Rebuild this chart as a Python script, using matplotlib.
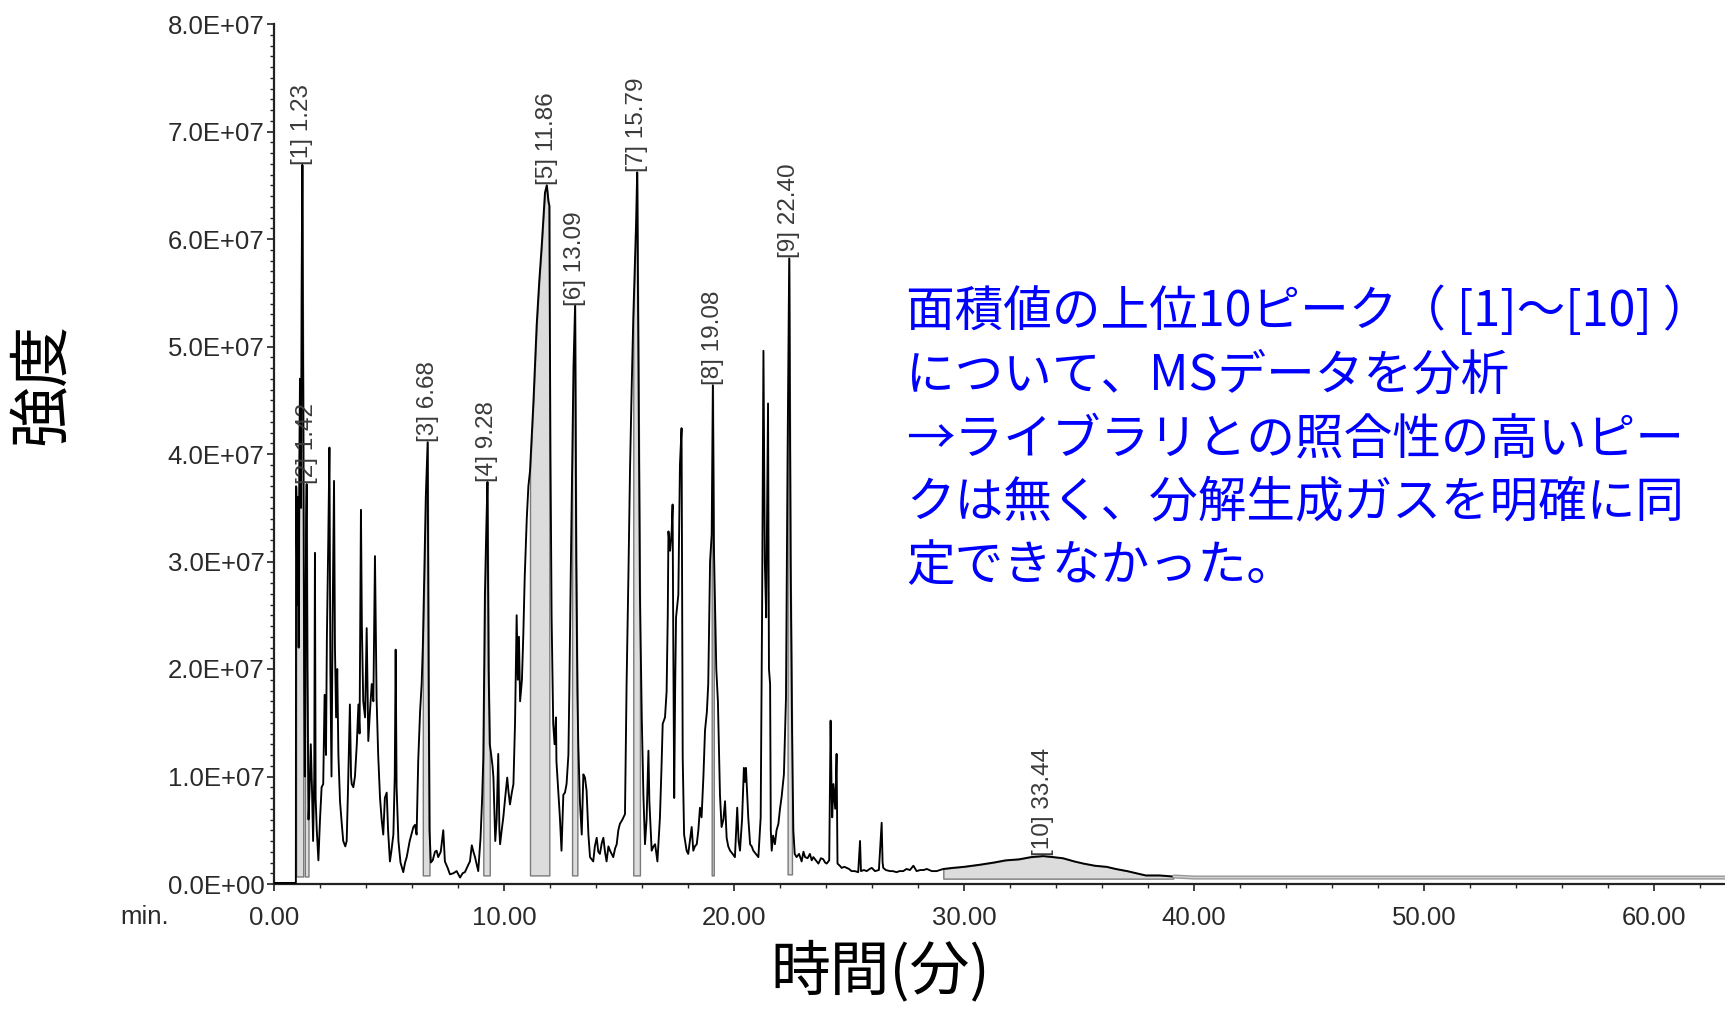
import numpy as np
import matplotlib
matplotlib.use("Agg")
import matplotlib.pyplot as plt
from matplotlib.ticker import MultipleLocator, FixedLocator, FixedFormatter

# ---------------- data ----------------
time_min = [
    0.00, 0.95, 0.96, 0.99, 1.01, 1.04, 1.07, 1.10, 1.13, 1.17,
    1.20, 1.23, 1.27, 1.31, 1.34, 1.37, 1.40, 1.42, 1.45, 1.50,
    1.55, 1.60, 1.65, 1.70, 1.75, 1.78, 1.81, 1.86, 1.93, 2.00,
    2.07, 2.14, 2.20, 2.26, 2.30, 2.36, 2.41, 2.45, 2.50, 2.55,
    2.61, 2.65, 2.70, 2.75, 2.80, 2.87, 2.95, 3.01, 3.10, 3.16,
    3.22, 3.30, 3.35, 3.38, 3.45, 3.52, 3.60, 3.67, 3.72, 3.78,
    3.82, 3.88, 3.96, 4.03, 4.07, 4.10, 4.17, 4.25, 4.32, 4.39,
    4.42, 4.46, 4.53, 4.61, 4.68, 4.75, 4.82, 4.90, 4.96, 5.04,
    5.10, 5.19, 5.25, 5.29, 5.33, 5.41, 5.50, 5.62, 5.70, 5.77,
    5.90, 6.06, 6.13, 6.20, 6.27, 6.35, 6.42, 6.47, 6.52, 6.60,
    6.68, 6.72, 6.76, 6.82, 6.90, 7.00, 7.07, 7.14, 7.25, 7.36,
    7.43, 7.55, 7.65, 7.80, 7.94, 8.09, 8.20, 8.30, 8.45, 8.52,
    8.60, 8.67, 8.74, 8.88, 8.98, 9.05, 9.10, 9.17, 9.23, 9.28,
    9.33, 9.38, 9.42, 9.50, 9.54, 9.62, 9.68, 9.75, 9.80, 9.83,
    9.90, 9.97, 10.05, 10.14, 10.20, 10.26, 10.34, 10.41, 10.48, 10.55,
    10.60, 10.65, 10.70, 10.78, 10.84, 10.90, 10.99, 11.06, 11.13, 11.28,
    11.42, 11.53, 11.64, 11.78, 11.86, 11.93, 11.97, 12.02, 12.07, 12.14,
    12.20, 12.26, 12.28, 12.35, 12.43, 12.50, 12.58, 12.65, 12.72, 12.80,
    12.84, 12.90, 12.96, 13.02, 13.09, 13.14, 13.19, 13.23, 13.30, 13.38,
    13.45, 13.52, 13.59, 13.67, 13.74, 13.88, 13.95, 14.03, 14.10, 14.17,
    14.25, 14.32, 14.39, 14.46, 14.54, 14.61, 14.68, 14.75, 14.83, 14.90,
    14.97, 15.04, 15.15, 15.26, 15.33, 15.41, 15.48, 15.55, 15.62, 15.74,
    15.79, 15.84, 15.91, 15.99, 16.06, 16.13, 16.20, 16.28, 16.32, 16.42,
    16.50, 16.57, 16.67, 16.72, 16.78, 16.85, 16.90, 17.00, 17.07, 17.12,
    17.15, 17.22, 17.29, 17.33, 17.36, 17.40, 17.44, 17.48, 17.58, 17.65,
    17.72, 17.77, 17.83, 17.94, 18.01, 18.08, 18.16, 18.23, 18.30, 18.38,
    18.45, 18.52, 18.59, 18.67, 18.74, 18.82, 18.88, 18.96, 19.03, 19.08,
    19.12, 19.17, 19.23, 19.30, 19.39, 19.46, 19.54, 19.61, 19.68, 19.75,
    19.83, 19.94, 20.04, 20.14, 20.20, 20.26, 20.35, 20.43, 20.48, 20.52,
    20.58, 20.62, 20.70, 20.77, 20.84, 20.95, 21.06, 21.16, 21.22, 21.28,
    21.34, 21.40, 21.48, 21.52, 21.57, 21.60, 21.64, 21.70, 21.78, 21.85,
    21.93, 22.00, 22.07, 22.17, 22.26, 22.33, 22.40, 22.46, 22.52, 22.58,
    22.64, 22.72, 22.83, 22.94, 23.02, 23.09, 23.20, 23.30, 23.38, 23.45,
    23.56, 23.67, 23.78, 23.88, 23.96, 24.03, 24.14, 24.20, 24.24, 24.27,
    24.32, 24.40, 24.46, 24.50, 24.60, 24.68, 24.80, 24.90, 25.00, 25.11,
    25.25, 25.40, 25.48, 25.52, 25.65, 25.77, 25.90, 25.99, 26.13, 26.30,
    26.42, 26.46, 26.49, 26.60, 26.78, 26.90, 27.07, 27.20, 27.36, 27.50,
    27.65, 27.80, 27.94, 28.10, 28.25, 28.38, 28.60, 28.81, 29.10, 29.50,
    30.00, 30.70, 31.30, 31.80, 32.40, 32.90, 33.44, 33.90, 34.30, 34.80,
    35.20, 35.70, 36.20, 36.60, 37.10, 37.50, 37.90, 38.50, 39.10, 40.00,
    63.30,
]
intensity_e7 = [
    0.01, 0.01, 3.70, 3.30, 2.60, 3.60, 2.20, 3.90, 4.70, 3.50,
    5.50, 6.69, 4.50, 2.00, 1.00, 2.50, 3.40, 3.72, 2.00, 0.60,
    0.90, 1.30, 0.90, 0.40, 1.00, 3.08, 0.80, 0.50, 0.22, 0.60,
    0.90, 0.93, 1.76, 1.20, 2.30, 3.20, 4.06, 2.00, 1.00, 2.50,
    3.75, 2.20, 1.55, 2.00, 1.20, 0.77, 0.55, 0.40, 0.35, 0.40,
    0.90, 1.67, 1.00, 0.93, 0.90, 1.00, 1.30, 1.67, 1.40, 3.48,
    2.40, 1.70, 1.55, 2.38, 1.80, 1.33, 1.60, 1.86, 1.70, 3.05,
    2.50, 1.73, 1.20, 0.80, 0.60, 0.46, 0.80, 0.85, 0.50, 0.21,
    0.30, 0.46, 1.00, 2.18, 0.90, 0.40, 0.20, 0.11, 0.20, 0.25,
    0.40, 0.53, 0.55, 0.46, 1.14, 1.60, 1.86, 2.20, 2.72, 3.60,
    4.11, 2.00, 0.50, 0.20, 0.22, 0.30, 0.31, 0.25, 0.30, 0.50,
    0.21, 0.15, 0.09, 0.10, 0.12, 0.06, 0.10, 0.11, 0.18, 0.21,
    0.36, 0.30, 0.25, 0.12, 0.43, 0.80, 1.17, 2.69, 3.30, 3.74,
    2.00, 1.30, 1.24, 1.10, 0.99, 0.40, 0.60, 1.21, 0.50, 0.37,
    0.50, 0.62, 0.80, 0.99, 0.85, 0.74, 0.85, 0.93, 1.50, 2.50,
    1.90, 2.30, 1.70, 1.90, 2.32, 2.85, 3.40, 3.70, 3.84, 4.49,
    5.20, 5.60, 5.94, 6.43, 6.50, 6.35, 6.31, 4.00, 2.48, 1.49,
    1.30, 1.55, 1.14, 0.90, 0.62, 0.31, 0.83, 0.85, 0.93, 1.20,
    1.79, 2.85, 3.80, 4.80, 5.38, 3.00, 1.80, 1.30, 0.77, 0.46,
    1.02, 0.99, 0.87, 0.46, 0.25, 0.21, 0.35, 0.43, 0.30, 0.28,
    0.38, 0.43, 0.30, 0.21, 0.35, 0.31, 0.28, 0.25, 0.33, 0.37,
    0.50, 0.56, 0.60, 0.65, 1.86, 2.88, 3.87, 4.60, 5.26, 6.13,
    6.62, 5.00, 2.69, 1.55, 0.83, 0.37, 0.60, 1.24, 0.77, 0.31,
    0.35, 0.37, 0.21, 0.40, 0.62, 1.10, 1.49, 1.55, 1.79, 2.50,
    3.28, 3.10, 3.28, 3.53, 2.26, 0.80, 1.80, 2.48, 2.69, 3.90,
    4.24, 1.17, 0.46, 0.31, 0.28, 0.40, 0.53, 0.31, 0.35, 0.37,
    0.50, 0.71, 0.62, 1.00, 1.43, 1.60, 1.86, 3.00, 3.25, 4.64,
    3.20, 2.63, 2.00, 1.70, 0.83, 0.53, 0.60, 0.77, 0.43, 0.35,
    0.31, 0.28, 0.25, 0.71, 0.40, 0.31, 0.60, 1.08, 0.95, 1.08,
    0.80, 0.62, 0.37, 0.35, 0.31, 0.28, 0.25, 0.62, 2.50, 4.96,
    3.00, 2.48, 4.47, 2.00, 1.86, 0.50, 0.31, 0.45, 0.37, 0.50,
    0.56, 0.70, 0.81, 1.02, 1.73, 4.00, 5.82, 3.00, 1.50, 0.50,
    0.28, 0.25, 0.28, 0.21, 0.30, 0.25, 0.24, 0.28, 0.22, 0.25,
    0.22, 0.19, 0.24, 0.23, 0.20, 0.19, 0.22, 1.52, 0.90, 0.62,
    0.93, 0.70, 1.21, 0.19, 0.17, 0.15, 0.16, 0.15, 0.14, 0.12,
    0.12, 0.11, 0.40, 0.12, 0.13, 0.12, 0.14, 0.15, 0.12, 0.13,
    0.57, 0.20, 0.15, 0.13, 0.12, 0.12, 0.11, 0.12, 0.12, 0.14,
    0.13, 0.17, 0.12, 0.13, 0.13, 0.14, 0.12, 0.12, 0.14, 0.15,
    0.16, 0.18, 0.20, 0.22, 0.23, 0.25, 0.26, 0.25, 0.24, 0.21,
    0.19, 0.17, 0.16, 0.14, 0.12, 0.10, 0.08, 0.08, 0.07, 0.06,
    0.06,
]

peak_ids = [1, 2, 3, 4, 5, 6, 7, 8, 9, 10]
peak_rt = [1.23, 1.42, 6.68, 9.28, 11.86, 13.09, 15.79, 19.08, 22.40, 33.44]
peak_start = [0.96, 1.32, 6.45, 9.08, 11.10, 12.95, 15.62, 18.98, 22.28, 29.10]
peak_end = [1.30, 1.50, 6.76, 9.38, 12.00, 13.20, 15.92, 19.14, 22.56, 39.10]
peak_base_e7 = [0.07, 0.07, 0.08, 0.08, 0.08, 0.08, 0.08, 0.08, 0.09, 0.05]
tail_start_min = 39.10

ytick_values = [0e7, 1e7, 2e7, 3e7, 4e7, 5e7, 6e7, 7e7, 8e7]
ytick_labels = ["0.0E+00", "1.0E+07", "2.0E+07", "3.0E+07", "4.0E+07",
                "5.0E+07", "6.0E+07", "7.0E+07", "8.0E+07"]
xtick_values = [0, 10, 20, 30, 40, 50, 60]
xtick_labels = ["0.00", "10.00", "20.00", "30.00", "40.00", "50.00", "60.00"]

ylabel_text = "強度"
xlabel_text = "時間(分)"
note_lines = [
    "面積値の上位10ピーク（ [1]～[10] ）",
    "について、MSデータを分析",
    "→ライブラリとの照合性の高いピー",
    "クは無く、分解生成ガスを明確に同",
    "定できなかった。",
]

# ---------------- figure ----------------
W, H = 1725, 1009
fig = plt.figure(figsize=(W / 100, H / 100), dpi=100)
fig.patch.set_facecolor("white")

x0_px, x_end_px, y0_px, ytop_px = 274, 1725, 884, 24
ax = fig.add_axes([x0_px / W, 1 - y0_px / H, (x_end_px - x0_px) / W, (y0_px - ytop_px) / H])

t = np.array(time_min)
y = np.array(intensity_e7) * 1e7

# integration areas
for s, e, b in zip(peak_start, peak_end, peak_base_e7):
    m = (t >= s) & (t <= e)
    ax.fill_between(t, b * 1e7, y, where=m, facecolor="#dcdcdc",
                    edgecolor="#7a7a7a", linewidth=1.0, zorder=2)

# trace
main = t <= tail_start_min
ax.plot(t[main], y[main], color="black", lw=1.35, zorder=3)
tail = t >= tail_start_min
ax.plot(t[tail], y[tail], color="#9a9a9a", lw=3.0, zorder=3, solid_capstyle="butt")
ax.plot(t[tail], y[tail], color="#d0d0d0", lw=1.0, zorder=3)

# peak labels
for pid, rt in zip(peak_ids, peak_rt):
    m = (t >= rt - 0.04) & (t <= rt + 0.04)
    top = y[m].max()
    ax.text(rt, top, f"[{pid}] {rt:.2f}", rotation=90, ha="center", va="bottom",
            fontsize=17.5, color="#3a3a3a", family="Liberation Sans", zorder=4)

ax.set_xlim(0, (x_end_px - x0_px) / 23.0)
ax.set_ylim(0, 8e7)

for sp in ["top", "right"]:
    ax.spines[sp].set_visible(False)
for sp in ["left", "bottom"]:
    ax.spines[sp].set_linewidth(1.6)
    ax.spines[sp].set_color("#222222")

ax.yaxis.set_major_locator(FixedLocator(ytick_values))
ax.yaxis.set_major_formatter(FixedFormatter(ytick_labels))
ax.yaxis.set_minor_locator(MultipleLocator(1e6))
ax.xaxis.set_major_locator(FixedLocator(xtick_values))
ax.xaxis.set_major_formatter(FixedFormatter(xtick_labels))
ax.xaxis.set_minor_locator(MultipleLocator(2))

ax.tick_params(axis="both", which="major", direction="out", length=5, width=1.2,
               colors="#222222", labelsize=18.5)
ax.tick_params(axis="y", which="major", pad=2)
ax.tick_params(axis="x", which="major", pad=11)
ax.tick_params(axis="both", which="minor", direction="out", length=3, width=1.0,
               colors="#222222")
for lab in ax.get_xticklabels() + ax.get_yticklabels():
    lab.set_family("Liberation Sans")
    lab.set_color("#2a2a2a")

fig.text(145 / W, 1 - 917 / H, "min.", ha="center", va="center", fontsize=18.5,
         color="#2a2a2a", family="Liberation Sans")

cjk = ["Noto Sans CJK JP", "DejaVu Sans"]
fig.text(42 / W, 1 - 384 / H, ylabel_text, rotation=90, ha="center", va="center",
         fontsize=44, family=cjk, color="black")
fig.text(880 / W, 1 - 973 / H, xlabel_text, ha="center", va="center",
         fontsize=43, family=cjk, color="black")

line_y_px = [312, 376, 440, 503, 566]
for txt, ly in zip(note_lines, line_y_px):
    fig.text(906 / W, 1 - ly / H, txt, ha="left", va="center", fontsize=35,
             family=cjk, color="#0000ff")

fig.savefig("out.png", dpi=100, facecolor="white")
